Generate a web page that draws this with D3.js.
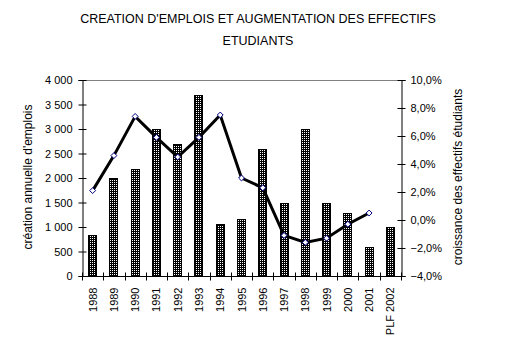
<!DOCTYPE html>
<html><head><meta charset="utf-8">
<script src="https://cdn.jsdelivr.net/npm/d3@7"></script>
<style>body{margin:0;background:#fff}svg{display:block}text{font-family:"Liberation Sans",Arial,sans-serif;fill:#000}</style>
</head><body>
<script>
const categories = ["1988","1989","1990","1991","1992","1993","1994","1995","1996","1997","1998","1999","2000","2001","PLF 2002"];
const emplois = [830,2000,2180,3000,2700,3700,1060,1160,2600,1500,3000,1500,1280,600,1000];
const croissance = [2.1,4.6,7.4,5.9,4.5,5.9,7.5,3.0,2.3,-1.1,-1.6,-1.3,-0.3,0.5,null];
const leftTicks = [0,500,1000,1500,2000,2500,3000,3500,4000];
const rightTicks = [-4,-2,0,2,4,6,8,10];
const title = ["CREATION D'EMPLOIS ET AUGMENTATION DES EFFECTIFS","ETUDIANTS"];
const leftTitle = "création annuelle d'emplois";
const rightTitle = "croissance des effectifs étudiants";

const W=517,H=347, L=82, R=401, T=80, B=276;
const svg = d3.select("body").append("svg").attr("width",W).attr("height",H);
const defs = svg.append("defs");
const pat = defs.append("pattern").attr("id","dots").attr("width",2).attr("height",2).attr("patternUnits","userSpaceOnUse");
pat.append("rect").attr("width",2).attr("height",2).attr("fill","#000");
pat.append("rect").attr("x",0).attr("y",0).attr("width",1).attr("height",1).attr("fill","#fff");

const x = d3.scaleBand().domain(categories).range([L,R]).padding(0);
const yL = d3.scaleLinear().domain([0,4000]).range([B,T]);
const yR = d3.scaleLinear().domain([-4,10]).range([B,T]);

// title
svg.append("text").attr("x",258).attr("y",23).attr("text-anchor","middle").style("font-size","12.5px").text(title[0]);
svg.append("text").attr("x",258).attr("y",45).attr("text-anchor","middle").style("font-size","12.5px").text(title[1]);

// top border
svg.append("line").attr("x1",L).attr("x2",R).attr("y1",T+0.5).attr("y2",T+0.5).attr("stroke","#808080");

// bars
const bw = 9;
svg.selectAll("rect.bar").data(emplois).join("rect").attr("class","bar")
  .attr("x",(d,i)=>Math.round(x(categories[i])+x.bandwidth()/2-bw/2)+0.5)
  .attr("y",d=>Math.round(yL(d))+0.5)
  .attr("width",bw-1)
  .attr("height",d=>B-Math.round(yL(d)))
  .attr("fill","url(#dots)").attr("stroke","#000").attr("stroke-width",1);

// left axis
const gl = svg.append("g").attr("transform",`translate(${L+0.5},0)`)
  .call(d3.axisLeft(yL).tickValues(leftTicks).tickSize(4).tickPadding(6)
    .tickFormat(d=>d3.format(",")(d).replace(/,/g," ")));
gl.select(".domain").attr("stroke","#000");
gl.selectAll(".tick line").attr("x1",-4).attr("x2",4).attr("stroke","#000");
gl.selectAll("text").style("font-size","11px");

// right axis
const gr = svg.append("g").attr("transform",`translate(${R+0.5},0)`)
  .call(d3.axisRight(yR).tickValues(rightTicks).tickSize(4).tickPadding(5)
    .tickFormat(d=>d3.format(".1f")(d).replace(".",",")+"%"));
gr.select(".domain").attr("stroke","#000");
gr.selectAll(".tick line").attr("x1",-4).attr("x2",4).attr("stroke","#000");
gr.selectAll("text").style("font-size","11px");

// x axis
const gx = svg.append("g").attr("transform",`translate(0,${B+0.5})`);
gx.append("line").attr("x1",L).attr("x2",R+1).attr("stroke","#000");
const bounds = categories.map(c=>x(c)).concat([R]);
gx.selectAll("line.t").data(bounds).join("line").attr("class","t")
  .attr("x1",d=>Math.round(d)+0.5).attr("x2",d=>Math.round(d)+0.5).attr("y1",-4).attr("y2",4).attr("stroke","#000");
gx.selectAll("text").data(categories).join("text")
  .attr("transform",d=>`translate(${x(d)+x.bandwidth()/2+4},${11}) rotate(-90)`)
  .attr("text-anchor","end").style("font-size","11px").text(d=>d);

// line
const pts = croissance.map((v,i)=>({c:categories[i],v})).filter(d=>d.v!==null);
svg.append("path").datum(pts)
  .attr("d",d3.line().x(d=>x(d.c)+x.bandwidth()/2).y(d=>yR(d.v)))
  .attr("fill","none").attr("stroke","#000").attr("stroke-width",3).attr("stroke-linejoin","miter");
svg.selectAll("path.mk").data(pts).join("path").attr("class","mk")
  .attr("transform",d=>`translate(${x(d.c)+x.bandwidth()/2},${yR(d.v)})`)
  .attr("d",d3.symbol().type(d3.symbolDiamond2).size(22))
  .attr("fill","#fff").attr("stroke","#000080").attr("stroke-width",1);

// axis titles
svg.append("text").attr("transform",`translate(32,177) rotate(-90)`).attr("text-anchor","middle").style("font-size","12px").text(leftTitle);
svg.append("text").attr("transform",`translate(462,177) rotate(-90)`).attr("text-anchor","middle").style("font-size","12px").text(rightTitle);
</script>
</body></html>
